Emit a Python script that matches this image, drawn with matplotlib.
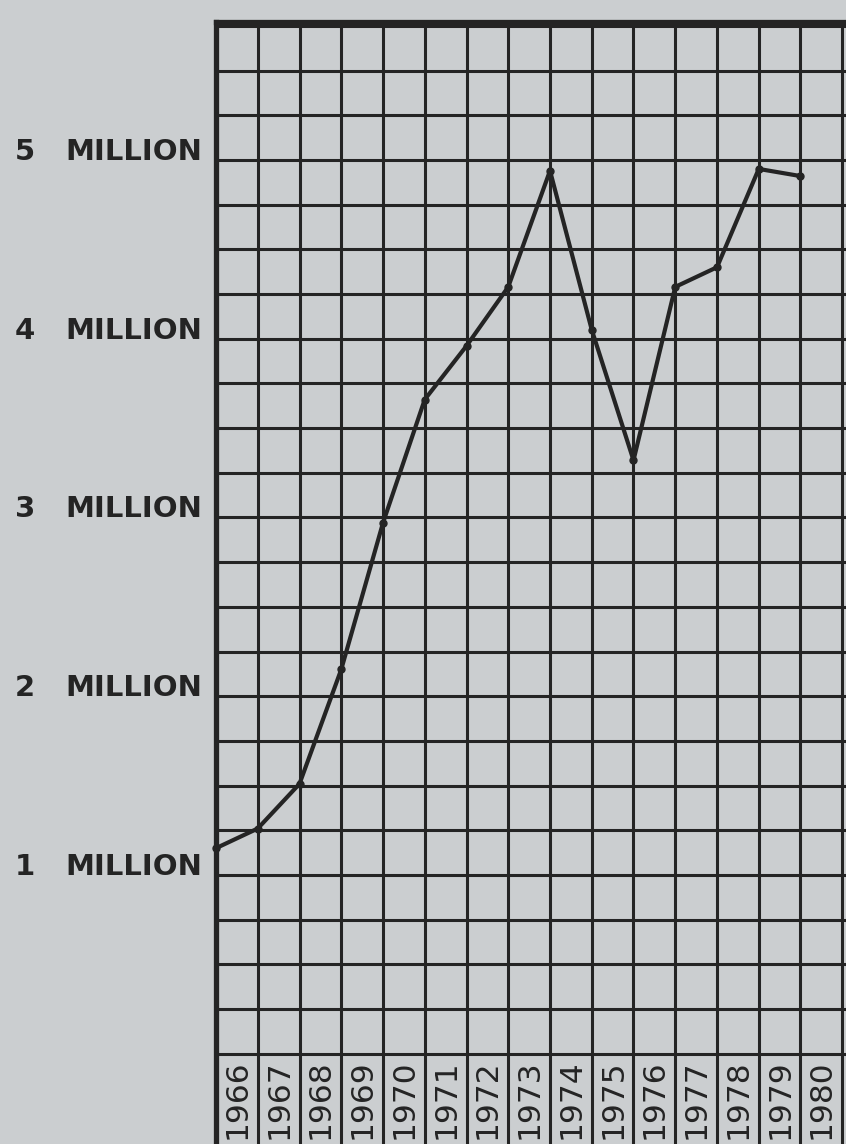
import numpy as np
import matplotlib.pyplot as plt
from matplotlib.transforms import blended_transform_factory

# values, in millions
years = [1966, 1967, 1968, 1969, 1970, 1971, 1972, 1973,
         1974, 1975, 1976, 1977, 1978, 1979, 1980]
values = [1.15, 1.26, 1.51, 2.15, 2.97, 3.66, 3.96, 4.29,
          4.94, 4.05, 3.32, 4.29, 4.40, 4.95, 4.91]
label_values = [1, 2, 3, 4, 5]
label_numbers = ['1', '2', '3', '4', '5']
year_labels = [str(y) for y in years]

paper = '#cbced0'
ink = '#242424'

fig = plt.figure(figsize=(8.46, 11.44), dpi=100, facecolor=paper)
ax = fig.add_axes([216 / 846, 0, 1 - 216 / 846, 1 - 22 / 1144])
ax.set_facecolor(paper)
ax.set_xlim(1966, 1966 + 630 / 41.75)
ax.set_ylim(-0.505, 5.772)

# graph paper: quarter-million rows, one column per year
for h in np.arange(0, 5.76, 0.25):
    ax.axhline(h, color=ink, lw=2.2, zorder=1)
for x in range(1967, 1982):
    ax.axvline(x, color=ink, lw=2.2, zorder=1)

ax.plot(years, values, color=ink, lw=3, marker='o', ms=5,
        solid_joinstyle='round', zorder=3, clip_on=False)

for yr, lab in zip(years, year_labels):
    ax.text(yr + 0.5, -0.255, lab, rotation=90, ha='center', va='center',
            fontsize=22.5, color=ink)

trans = blended_transform_factory(fig.transFigure, ax.transData)
for v, num in zip(label_values, label_numbers):
    ax.text(25 / 846, v + 0.045, num, transform=trans, ha='center', va='center',
            fontsize=21, fontweight='bold', color=ink, clip_on=False)
    ax.text(202 / 846, v + 0.045, 'MILLION', transform=trans, ha='right',
            va='center', fontsize=21, fontweight='bold', color=ink, clip_on=False)

ax.set_xticks([])
ax.set_yticks([])
for side in ['right', 'bottom']:
    ax.spines[side].set_visible(False)
for side in ['left', 'top']:
    ax.spines[side].set_linewidth(3.8)
    ax.spines[side].set_color(ink)

fig.savefig('out.png', dpi=100, facecolor=paper)
